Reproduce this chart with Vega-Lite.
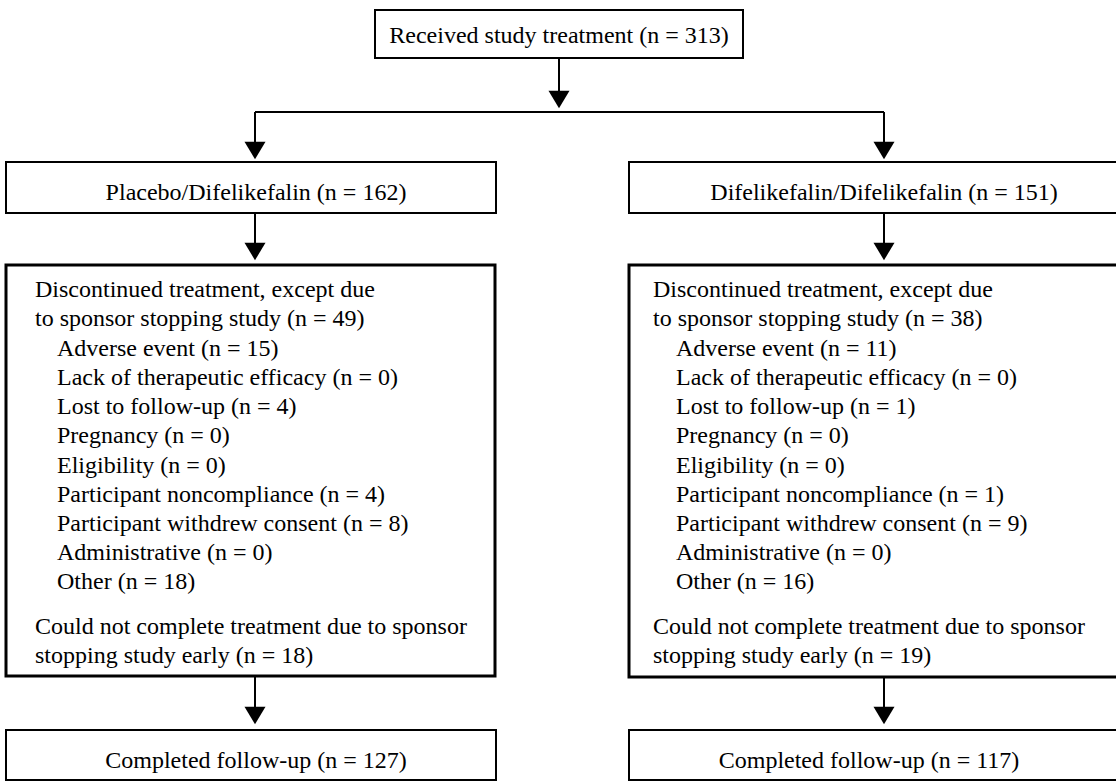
{
  "$schema": "https://vega.github.io/schema/vega-lite/v6.json",
  "width": 1116,
  "height": 781,
  "padding": 0,
  "autosize": {"type": "fit", "contains": "padding"},
  "background": "white",
  "config": {"view": {"stroke": null}},
  "datasets": {
    "boxes": [
      {"id": "received", "kind": "small", "x1": 375, "x2": 743, "y1": 10, "y2": 58},
      {"id": "placebo", "kind": "small", "x1": 6, "x2": 496, "y1": 162, "y2": 213},
      {"id": "difelikefalin", "kind": "small", "x1": 629, "x2": 1122, "y1": 162, "y2": 213},
      {"id": "disc_placebo", "kind": "large", "x1": 6, "x2": 495, "y1": 265, "y2": 676},
      {"id": "disc_difelikefalin", "kind": "large", "x1": 629, "x2": 1122, "y1": 265, "y2": 677},
      {"id": "complete_placebo", "kind": "small", "x1": 6, "x2": 496, "y1": 730, "y2": 780},
      {"id": "complete_difelikefalin", "kind": "small", "x1": 629, "x2": 1122, "y1": 730, "y2": 780}
    ],
    "edges": [
      {"x": 559, "y": 58, "x2": 559, "y2": 100},
      {"x": 255, "y": 112, "x2": 884, "y2": 112},
      {"x": 255, "y": 112, "x2": 255, "y2": 151},
      {"x": 884, "y": 112, "x2": 884, "y2": 151},
      {"x": 255, "y": 213, "x2": 255, "y2": 252},
      {"x": 884, "y": 213, "x2": 884, "y2": 252},
      {"x": 255, "y": 676, "x2": 255, "y2": 716},
      {"x": 884, "y": 677, "x2": 884, "y2": 716}
    ],
    "heads": [
      {"x": 559, "y": 99.5},
      {"x": 255, "y": 150.5},
      {"x": 884, "y": 150.5},
      {"x": 255, "y": 251.5},
      {"x": 884, "y": 251.5},
      {"x": 255, "y": 715.5},
      {"x": 884, "y": 715.5}
    ],
    "labels": [
      {"role": "heading", "text": "Received study treatment (n = 313)", "x": 559, "y": 43},
      {"role": "heading", "text": "Placebo/Difelikefalin (n = 162)", "x": 256, "y": 200},
      {"role": "heading", "text": "Difelikefalin/Difelikefalin (n = 151)", "x": 884, "y": 200},
      {"role": "heading", "text": "Completed follow-up (n = 127)", "x": 256, "y": 768},
      {"role": "heading", "text": "Completed follow-up (n = 117)", "x": 869, "y": 768},

      {"role": "item", "text": "Discontinued treatment, except due", "x": 35, "y": 297},
      {"role": "item", "text": "to sponsor stopping study (n = 49)", "x": 35, "y": 326},
      {"role": "item", "text": "Adverse event (n = 15)", "x": 57, "y": 355.5},
      {"role": "item", "text": "Lack of therapeutic efficacy (n = 0)", "x": 57, "y": 385},
      {"role": "item", "text": "Lost to follow-up (n = 4)", "x": 57, "y": 414},
      {"role": "item", "text": "Pregnancy (n = 0)", "x": 57, "y": 443},
      {"role": "item", "text": "Eligibility (n = 0)", "x": 57, "y": 472.5},
      {"role": "item", "text": "Participant noncompliance (n = 4)", "x": 57, "y": 501.5},
      {"role": "item", "text": "Participant withdrew consent (n = 8)", "x": 57, "y": 530.5},
      {"role": "item", "text": "Administrative (n = 0)", "x": 57, "y": 560},
      {"role": "item", "text": "Other (n = 18)", "x": 57, "y": 589},
      {"role": "item", "text": "Could not complete treatment due to sponsor", "x": 35, "y": 634},
      {"role": "item", "text": "stopping study early (n = 18)", "x": 35, "y": 663},

      {"role": "item", "text": "Discontinued treatment, except due", "x": 653, "y": 297},
      {"role": "item", "text": "to sponsor stopping study (n = 38)", "x": 653, "y": 326},
      {"role": "item", "text": "Adverse event (n = 11)", "x": 676, "y": 355.5},
      {"role": "item", "text": "Lack of therapeutic efficacy (n = 0)", "x": 676, "y": 385},
      {"role": "item", "text": "Lost to follow-up (n = 1)", "x": 676, "y": 414},
      {"role": "item", "text": "Pregnancy (n = 0)", "x": 676, "y": 443},
      {"role": "item", "text": "Eligibility (n = 0)", "x": 676, "y": 472.5},
      {"role": "item", "text": "Participant noncompliance (n = 1)", "x": 676, "y": 501.5},
      {"role": "item", "text": "Participant withdrew consent (n = 9)", "x": 676, "y": 530.5},
      {"role": "item", "text": "Administrative (n = 0)", "x": 676, "y": 560},
      {"role": "item", "text": "Other (n = 16)", "x": 676, "y": 589},
      {"role": "item", "text": "Could not complete treatment due to sponsor", "x": 653, "y": 634},
      {"role": "item", "text": "stopping study early (n = 19)", "x": 653, "y": 663}
    ]
  },
  "layer": [
    {
      "data": {"name": "boxes"},
      "transform": [{"filter": "datum.kind === 'small'"}],
      "mark": {"type": "rect", "fill": "white", "stroke": "black", "strokeWidth": 2, "clip": true},
      "encoding": {
        "x": {"field": "x1", "type": "quantitative", "scale": {"domain": [0, 1116], "nice": false, "zero": false}, "axis": null},
        "x2": {"field": "x2"},
        "y": {"field": "y1", "type": "quantitative", "scale": {"domain": [0, 781], "nice": false, "zero": false, "reverse": true}, "axis": null},
        "y2": {"field": "y2"}
      }
    },
    {
      "data": {"name": "boxes"},
      "transform": [{"filter": "datum.kind === 'large'"}],
      "mark": {"type": "rect", "fill": "white", "stroke": "black", "strokeWidth": 3, "clip": true},
      "encoding": {
        "x": {"field": "x1", "type": "quantitative", "scale": {"domain": [0, 1116], "nice": false, "zero": false}, "axis": null},
        "x2": {"field": "x2"},
        "y": {"field": "y1", "type": "quantitative", "scale": {"domain": [0, 781], "nice": false, "zero": false, "reverse": true}, "axis": null},
        "y2": {"field": "y2"}
      }
    },
    {
      "data": {"name": "edges"},
      "mark": {"type": "rule", "color": "black", "strokeWidth": 2},
      "encoding": {
        "x": {"field": "x", "type": "quantitative", "scale": {"domain": [0, 1116], "nice": false, "zero": false}, "axis": null},
        "x2": {"field": "x2"},
        "y": {"field": "y", "type": "quantitative", "scale": {"domain": [0, 781], "nice": false, "zero": false, "reverse": true}, "axis": null},
        "y2": {"field": "y2"}
      }
    },
    {
      "data": {"name": "heads"},
      "mark": {"type": "point", "shape": "M-1,-0.83L1,-0.83L0,0.83Z", "filled": true, "color": "black", "opacity": 1, "size": 441, "strokeWidth": 0},
      "encoding": {
        "x": {"field": "x", "type": "quantitative", "scale": {"domain": [0, 1116], "nice": false, "zero": false}, "axis": null},
        "y": {"field": "y", "type": "quantitative", "scale": {"domain": [0, 781], "nice": false, "zero": false, "reverse": true}, "axis": null}
      }
    },
    {
      "data": {"name": "labels"},
      "transform": [{"filter": "datum.role === 'heading'"}],
      "mark": {"type": "text", "font": "Liberation Serif", "fontSize": 24, "color": "black", "align": "center", "baseline": "alphabetic"},
      "encoding": {
        "x": {"field": "x", "type": "quantitative", "scale": {"domain": [0, 1116], "nice": false, "zero": false}, "axis": null},
        "y": {"field": "y", "type": "quantitative", "scale": {"domain": [0, 781], "nice": false, "zero": false, "reverse": true}, "axis": null},
        "text": {"field": "text", "type": "nominal"}
      }
    },
    {
      "data": {"name": "labels"},
      "transform": [{"filter": "datum.role === 'item'"}],
      "mark": {"type": "text", "font": "Liberation Serif", "fontSize": 24, "color": "black", "align": "left", "baseline": "alphabetic"},
      "encoding": {
        "x": {"field": "x", "type": "quantitative", "scale": {"domain": [0, 1116], "nice": false, "zero": false}, "axis": null},
        "y": {"field": "y", "type": "quantitative", "scale": {"domain": [0, 781], "nice": false, "zero": false, "reverse": true}, "axis": null},
        "text": {"field": "text", "type": "nominal"}
      }
    }
  ]
}
